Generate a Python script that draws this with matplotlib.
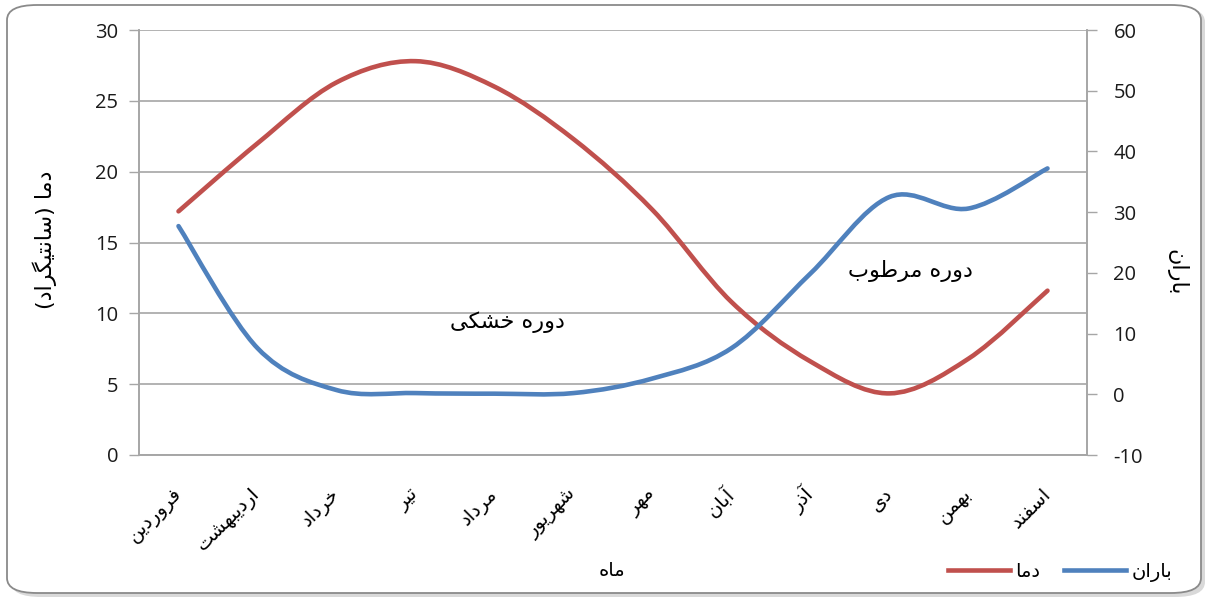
import matplotlib
matplotlib.use("Agg")
import matplotlib.pyplot as plt
from matplotlib.path import Path
from matplotlib.patches import PathPatch, FancyBboxPatch
from matplotlib.lines import Line2D

plt.rcParams["axes.unicode_minus"] = False

# ---- data -------------------------------------------------------------
months = ["فروردین", "اردیبهشت", "خرداد", "تیر", "مرداد", "شهریور",
          "مهر", "آبان", "آذر", "دی", "بهمن", "اسفند"]
temperature = [17.2, 22.0, 26.3, 27.8, 26.0, 22.3, 17.3, 10.8, 6.6, 4.35, 6.8, 11.6]
rainfall = [27.7, 7.6, 0.7, 0.2, 0.1, 0.2, 2.6, 7.6, 19.9, 32.5, 30.6, 37.2]

temp_label = "دما"
rain_label = "باران"
temp_axis_title = "دما (سانتیگراد)"
x_title = "ماه"
dry_note = "دوره خشکی"
wet_note = "دوره مرطوب"

# ---- minimal Persian shaping (presentation forms + visual order) -------
FORMS = {  # isolated, final, initial, medial
    "ا": ("\uFE8D", "\uFE8E", None, None),
    "آ": ("\uFE81", "\uFE82", None, None),
    "ب": ("\uFE8F", "\uFE90", "\uFE91", "\uFE92"),
    "ت": ("\uFE95", "\uFE96", "\uFE97", "\uFE98"),
    "خ": ("\uFEA5", "\uFEA6", "\uFEA7", "\uFEA8"),
    "د": ("\uFEA9", "\uFEAA", None, None),
    "ذ": ("\uFEAB", "\uFEAC", None, None),
    "ر": ("\uFEAD", "\uFEAE", None, None),
    "س": ("\uFEB1", "\uFEB2", "\uFEB3", "\uFEB4"),
    "ش": ("\uFEB5", "\uFEB6", "\uFEB7", "\uFEB8"),
    "ط": ("\uFEC1", "\uFEC2", "\uFEC3", "\uFEC4"),
    "ف": ("\uFED1", "\uFED2", "\uFED3", "\uFED4"),
    "م": ("\uFEE1", "\uFEE2", "\uFEE3", "\uFEE4"),
    "ن": ("\uFEE5", "\uFEE6", "\uFEE7", "\uFEE8"),
    "ه": ("\uFEE9", "\uFEEA", "\uFEEB", "\uFEEC"),
    "و": ("\uFEED", "\uFEEE", None, None),
    "ی": ("\uFEEF", "\uFEF0", "\uFEF3", "\uFEF4"),
    "ک": ("\uFB8E", "\uFB8F", "\uFB90", "\uFB91"),
    "گ": ("\uFB92", "\uFB93", "\uFB94", "\uFB95"),
}
MIRROR = {"(": ")", ")": "("}


def fa(text):
    out = []
    n = len(text)
    for i, ch in enumerate(text):
        if ch not in FORMS:
            out.append(MIRROR.get(ch, ch))
            continue
        prev = text[i - 1] if i > 0 else None
        nxt = text[i + 1] if i < n - 1 else None
        join_prev = prev in FORMS and FORMS[prev][2] is not None
        join_next = FORMS[ch][2] is not None and nxt in FORMS
        iso, fin, ini, med = FORMS[ch]
        if join_prev and join_next:
            out.append(med)
        elif join_prev:
            out.append(fin)
        elif join_next:
            out.append(ini)
        else:
            out.append(iso)
    return "".join(reversed(out))


# ---- smooth curve through the points (cubic Bezier, Catmull-Rom) -------
def smooth_path(xs, ys):
    pts = list(zip(xs, ys))
    verts = [pts[0]]
    codes = [Path.MOVETO]
    for i in range(len(pts) - 1):
        p0 = pts[i - 1] if i > 0 else pts[i]
        p1 = pts[i]
        p2 = pts[i + 1]
        p3 = pts[i + 2] if i + 2 < len(pts) else pts[i + 1]
        c1 = (p1[0] + (p2[0] - p0[0]) / 6, p1[1] + (p2[1] - p0[1]) / 6)
        c2 = (p2[0] - (p3[0] - p1[0]) / 6, p2[1] - (p3[1] - p1[1]) / 6)
        verts += [c1, c2, p2]
        codes += [Path.CURVE4] * 3
    return Path(verts, codes)


# ---- figure -------------------------------------------------------------
W, H = 1209, 598
fig = plt.figure(figsize=(W / 100, H / 100), dpi=100)
fig.patch.set_facecolor("white")

# rounded chart frame with a soft shadow
shadow = FancyBboxPatch((11 / W, 1 / H), 1194 / W, 590 / H,
                        boxstyle="round,pad=0,rounding_size=0.025",
                        transform=fig.transFigure, facecolor="#d9d9d9",
                        edgecolor="none", zorder=0)
frame = FancyBboxPatch((7 / W, 5 / H), 1194 / W, 588 / H,
                       boxstyle="round,pad=0,rounding_size=0.025",
                       transform=fig.transFigure, facecolor="white",
                       edgecolor="#8a8a8a", linewidth=1.3, zorder=0.5)
fig.patches.extend([shadow, frame])

ax = fig.add_axes([139 / W, 1 - 455 / H, 948 / W, 425 / H])
ax.set_zorder(2)
ax2 = ax.twinx()
ax2.set_zorder(3)
for a in (ax, ax2):
    a.patch.set_visible(False)

x = list(range(len(months)))
ax.set_xlim(-0.5, len(months) - 0.5)
ax.set_ylim(0, 30)
ax2.set_ylim(-10, 60)

num_font = "Open Sans"
grid_c = "#a6a6a6"
text_c = "#1a1a1a"

ax.set_yticks(range(0, 31, 5))
ax2.set_yticks(range(-10, 61, 10))
ax.yaxis.grid(True, color=grid_c, linewidth=1.2)
ax.set_axisbelow(True)
ax.tick_params(axis="y", direction="out", length=7, width=1, color=grid_c,
               pad=8, labelsize=14.5, labelcolor=text_c)
ax2.tick_params(axis="y", direction="out", length=7, width=1, color=grid_c,
                pad=12, labelsize=14.5, labelcolor=text_c)
for lab in ax.get_yticklabels() + ax2.get_yticklabels():
    lab.set_family(num_font)

for a in (ax, ax2):
    a.spines["top"].set_visible(False)
    for side in ("left", "right", "bottom"):
        a.spines[side].set_color(grid_c)
        a.spines[side].set_linewidth(1.2)

ax.set_xticks(x)
ax.set_xticklabels([fa(m) for m in months], rotation=45, ha="right",
                   va="center", rotation_mode="anchor", fontsize=14,
                   family="DejaVu Sans", color="black")
ax.tick_params(axis="x", length=0, pad=26)

# smoothed series
ax.add_patch(PathPatch(smooth_path(x, temperature), fill=False,
                       edgecolor="#c0504d", linewidth=3.3,
                       capstyle="round", zorder=4))
ax2.add_patch(PathPatch(smooth_path(x, rainfall), fill=False,
                        edgecolor="#4f81bd", linewidth=3.3,
                        capstyle="round", zorder=4))

# axis titles
fig.text(45 / W, 1 - 240 / H, fa(temp_axis_title), rotation=90,
         ha="center", va="center", fontsize=16, family="DejaVu Sans")
fig.text(1176 / W, 1 - 272 / H, fa(rain_label), rotation=270,
         ha="center", va="center", fontsize=16, family="DejaVu Sans")
fig.text(612 / W, 1 - 571 / H, fa(x_title), ha="center", va="center",
         fontsize=14, family="DejaVu Sans")

# period notes
ax.text(4.17, 9.4, fa(dry_note), ha="center", va="center",
        fontsize=16, family="DejaVu Sans")
ax2.text(9.26, 20.3, fa(wet_note), ha="center", va="center",
         fontsize=16, family="DejaVu Sans")

# legend
handles = [Line2D([], [], color="#c0504d", linewidth=3.3),
           Line2D([], [], color="#4f81bd", linewidth=3.3)]
fig.legend(handles, [fa(temp_label), fa(rain_label)], ncol=2,
           loc="center left", bbox_to_anchor=(938 / W, 1 - 572 / H),
           frameon=False, handlelength=3.2, handletextpad=0.25,
           columnspacing=1.25, borderpad=0,
           prop={"family": "DejaVu Sans", "size": 14})

fig.savefig("out.png", dpi=100)
